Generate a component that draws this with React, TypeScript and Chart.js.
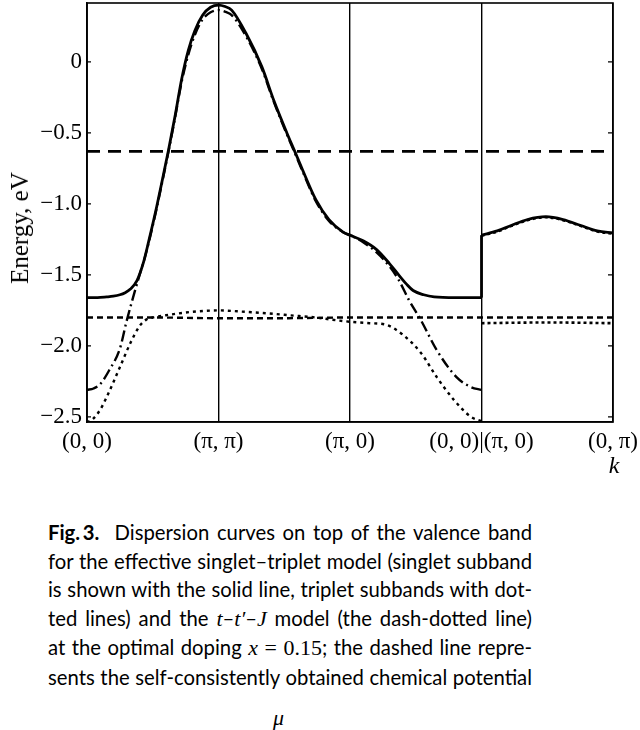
import React, { useEffect, useRef } from "react";
import { Chart, registerables } from "chart.js";

Chart.register(...registerables);

// ---- data (k path coordinate: 0=(0,0), 1=(π,π), 2=(π,0), 3=(0,0)|(π,0), 4=(0,π)) ----
const xTickLabels = ["(0, 0)", "(π, π)", "(π, 0)", "(0, 0)|(π, 0)", "(0, π)"];
const yTickValues = [0, -0.5, -1.0, -1.5, -2.0, -2.5];

const muK = [0, 4];
const muE = [-0.63, -0.63];

const singletK = [0, 0.08, 0.15, 0.2, 0.25, 0.29, 0.33, 0.38, 0.43, 0.47, 0.53, 0.58, 0.62, 0.67, 0.72, 0.77, 0.82, 0.88, 0.94, 1.0, 1.05, 1.1, 1.21, 1.33, 1.42, 1.52, 1.58, 1.63, 1.74, 1.84, 1.95, 2.0, 2.1, 2.2, 2.3, 2.37, 2.43, 2.48, 2.56, 2.64, 2.8, 3.0];
const singletE = [-1.66, -1.66, -1.655, -1.65, -1.64, -1.625, -1.6, -1.54, -1.41, -1.26, -1.02, -0.8, -0.62, -0.38, -0.12, 0.08, 0.22, 0.33, 0.385, 0.4, 0.39, 0.365, 0.2, -0.035, -0.27, -0.5, -0.63, -0.74, -0.97, -1.11, -1.2, -1.22, -1.26, -1.32, -1.42, -1.5, -1.565, -1.61, -1.64, -1.655, -1.66, -1.66];
const singletJumpK = [3, 3];
const singletJumpE = [-1.66, -1.22];
const singletRightK = [3, 3.12, 3.23, 3.35, 3.49, 3.62, 3.75, 3.88, 4.0];
const singletRightE = [-1.22, -1.19, -1.15, -1.11, -1.09, -1.11, -1.15, -1.19, -1.205];

const tJK = [0, 0.05, 0.1, 0.17, 0.25, 0.3, 0.35, 0.4, 0.43, 0.47, 0.53, 0.58, 0.62, 0.67, 0.72, 0.77, 0.82, 0.88, 0.94, 1.0, 1.06, 1.1, 1.21, 1.33, 1.42, 1.52, 1.58, 1.63, 1.74, 1.84, 1.95, 2.0, 2.1, 2.2, 2.3, 2.37, 2.45, 2.54, 2.66, 2.81, 2.92, 3.0];
const tJE = [-2.31, -2.3, -2.27, -2.17, -2.02, -1.83, -1.66, -1.5, -1.41, -1.27, -1.03, -0.81, -0.63, -0.39, -0.14, 0.05, 0.19, 0.3, 0.35, 0.365, 0.35, 0.33, 0.18, -0.05, -0.28, -0.51, -0.64, -0.75, -0.98, -1.12, -1.2, -1.22, -1.27, -1.34, -1.44, -1.535, -1.68, -1.82, -2.03, -2.22, -2.29, -2.31];
const tJRightK = [3, 3.12, 3.23, 3.35, 3.49, 3.62, 3.75, 3.88, 4.0];
const tJRightE = [-1.225, -1.195, -1.155, -1.115, -1.095, -1.115, -1.155, -1.195, -1.21];

const tripletAK = [0, 0.5, 1, 1.5, 2, 2.5, 3, 3.5, 4];
const tripletAE = [-1.8, -1.8, -1.805, -1.805, -1.8, -1.8, -1.8, -1.8, -1.8];

const tripletBK = [0, 0.05, 0.1, 0.15, 0.25, 0.33, 0.4, 0.45, 0.5, 0.63, 0.8, 1.0, 1.2, 1.36, 1.55, 1.74, 1.9, 2.0, 2.15, 2.27, 2.4, 2.54, 2.66, 2.79, 2.92, 3.0];
const tripletBE = [-2.54, -2.51, -2.45, -2.36, -2.15, -1.98, -1.86, -1.815, -1.8, -1.78, -1.76, -1.75, -1.76, -1.77, -1.785, -1.8, -1.82, -1.83, -1.84, -1.85, -1.92, -2.05, -2.22, -2.38, -2.5, -2.53];
const tripletBRightK = [3, 3.5, 4];
const tripletBRightE = [-1.84, -1.835, -1.84];

const pts = (k: number[], e: number[]) => k.map((x, i) => ({ x, y: e[i] }));

const framePlugin = {
  id: "frame",
  afterDatasetsDraw(chart: any) {
    const { ctx, chartArea } = chart;
    const y = chart.scales.y;
    ctx.save();
    ctx.strokeStyle = "#000";
    ctx.lineWidth = 1.6;
    ctx.strokeRect(chartArea.left, chartArea.top, chartArea.right - chartArea.left, chartArea.bottom - chartArea.top);
    ctx.lineWidth = 1.3;
    y.ticks.forEach((t: any) => {
      const py = y.getPixelForValue(t.value);
      ctx.beginPath();
      ctx.moveTo(chartArea.left, py);
      ctx.lineTo(chartArea.left + 4, py);
      ctx.moveTo(chartArea.right, py);
      ctx.lineTo(chartArea.right - 5, py);
      ctx.stroke();
    });
    ctx.restore();
  },
};

function ChartView() {
  const ref = useRef<HTMLCanvasElement | null>(null);
  useEffect(() => {
    if (!ref.current) return;
    const base = { pointRadius: 0, borderColor: "#000", fill: false, cubicInterpolationMode: "monotone" as const };
    const chart = new Chart(ref.current, {
      type: "line",
      data: {
        datasets: [
          { ...base, label: "μ", data: pts(muK, muE), borderWidth: 2.6, borderDash: [13, 8] },
          { ...base, label: "triplet A", data: pts(tripletAK, tripletAE), borderWidth: 2.4, borderDash: [6, 4] },
          { ...base, label: "triplet B", data: pts(tripletBK, tripletBE), borderWidth: 2.4, borderDash: [3, 4] },
          { ...base, label: "triplet B right", data: pts(tripletBRightK, tripletBRightE), borderWidth: 2.6, borderDash: [3, 3] },
          { ...base, label: "t-t'-J", data: pts(tJK, tJE), borderWidth: 2.4, borderDash: [11, 4, 2, 4] },
          { ...base, label: "t-t'-J right", data: pts(tJRightK, tJRightE), borderWidth: 2.4, borderDash: [3, 3] },
          { ...base, label: "singlet", data: pts(singletK, singletE), borderWidth: 2.8 },
          { ...base, label: "singlet jump", data: pts(singletJumpK, singletJumpE), borderWidth: 2.8, cubicInterpolationMode: "default", tension: 0 },
          { ...base, label: "singlet right", data: pts(singletRightK, singletRightE), borderWidth: 2.8 },
        ],
      },
      options: {
        responsive: false,
        animation: false,
        events: [],
        layout: { padding: { left: 0, right: 27, top: 3, bottom: 0 } },
        plugins: { legend: { display: false }, tooltip: { enabled: false } },
        scales: {
          x: {
            type: "linear",
            min: 0,
            max: 4,
            afterFit: (s: any) => {
              s.height = 58;
              s.paddingLeft = 0;
              s.paddingRight = 0;
            },
            afterBuildTicks: (s: any) => { s.ticks = xTickLabels.map((_, i) => ({ value: i })); },
            ticks: {
              color: "#000",
              padding: 6,
              maxRotation: 0,
              autoSkip: false,
              font: { family: "'Liberation Serif', serif", size: 23 },
              callback: (v: any) => xTickLabels[Math.round(Number(v))] ?? "",
            },
            grid: { color: "#000", lineWidth: 1.4, drawTicks: false },
            border: { display: true, color: "#000", width: 1.6 },
          },
          y: {
            type: "linear",
            min: -2.536,
            max: 0.415,
            afterFit: (s: any) => {
              s.width = 87;
              s.paddingTop = 0;
              s.paddingBottom = 0;
            },
            afterBuildTicks: (s: any) => { s.ticks = yTickValues.map((v) => ({ value: v })); },
            ticks: {
              color: "#000",
              padding: 5,
              autoSkip: false,
              font: { family: "'Liberation Serif', serif", size: 23 },
              callback: (v: any) => {
                const n = Number(v);
                if (Math.abs(n) < 1e-9) return "0";
                return "\u2212" + Math.abs(n).toFixed(1);
              },
            },
            grid: { display: true, drawOnChartArea: false, drawTicks: false },
            border: { display: true, color: "#000", width: 1.6 },
          },
        },
      },
      plugins: [framePlugin],
    });
    return () => chart.destroy();
  }, []);
  return <canvas ref={ref} width={640} height={480} style={{ position: "absolute", left: 0, top: 0, width: 640, height: 480 }} />;
}

const serifMath: React.CSSProperties = { fontFamily: "'Liberation Serif', serif", fontStyle: "italic", fontSize: "1.08em" };
const serifUp: React.CSSProperties = { fontFamily: "'Liberation Serif', serif", fontSize: "1.08em" };

const lineStyle: React.CSSProperties = { textAlign: "justify", textAlignLast: "justify" as any, whiteSpace: "nowrap" };

export default function App() {
  return (
    <div style={{ position: "absolute", left: 0, top: 0, width: 640, height: 730, background: "#fff", overflow: "hidden" }}>
      <ChartView />
      <div
        style={{
          position: "absolute",
          left: 20,
          top: 228,
          transform: "translate(-50%, -50%) rotate(-90deg)",
          fontFamily: "'Liberation Serif', serif",
          fontSize: 25,
          whiteSpace: "nowrap",
          color: "#000",
        }}
      >
        Energy, eV
      </div>
      <div
        style={{
          position: "absolute",
          left: 614,
          top: 465,
          transform: "translate(-50%, -50%)",
          fontFamily: "'Liberation Serif', serif",
          fontStyle: "italic",
          fontSize: 24,
          color: "#000",
        }}
      >
        k
      </div>
      <div
        style={{
          position: "absolute",
          left: 48,
          top: 518,
          width: 484,
          fontFamily: "Lato, 'Open Sans', sans-serif",
          fontSize: 20.3,
          lineHeight: "28.6px",
          color: "#000",
        }}
      >
        <div style={lineStyle}>
          <b>Fig.&#8201;3.</b>&nbsp; Dispersion curves on top of the valence band
        </div>
        <div style={lineStyle}>for the effective singlet–triplet model (singlet subband</div>
        <div style={lineStyle}>is shown with the solid line, triplet subbands with dot-</div>
        <div style={lineStyle}>
          ted lines) and the <span style={serifMath}>t</span>–<span style={serifMath}>t′</span>–<span style={serifMath}>J</span> model (the dash-dotted line)
        </div>
        <div style={lineStyle}>
          at the optimal doping <span style={serifMath}>x</span> <span style={serifUp}>= 0.15</span>; the dashed line repre-
        </div>
        <div style={lineStyle}>sents the self-consistently obtained chemical potential</div>
        <div style={{ textAlign: "left", paddingLeft: 225, marginTop: 11 }}>
          <span style={serifMath}>μ</span>
        </div>
      </div>
    </div>
  );
}
